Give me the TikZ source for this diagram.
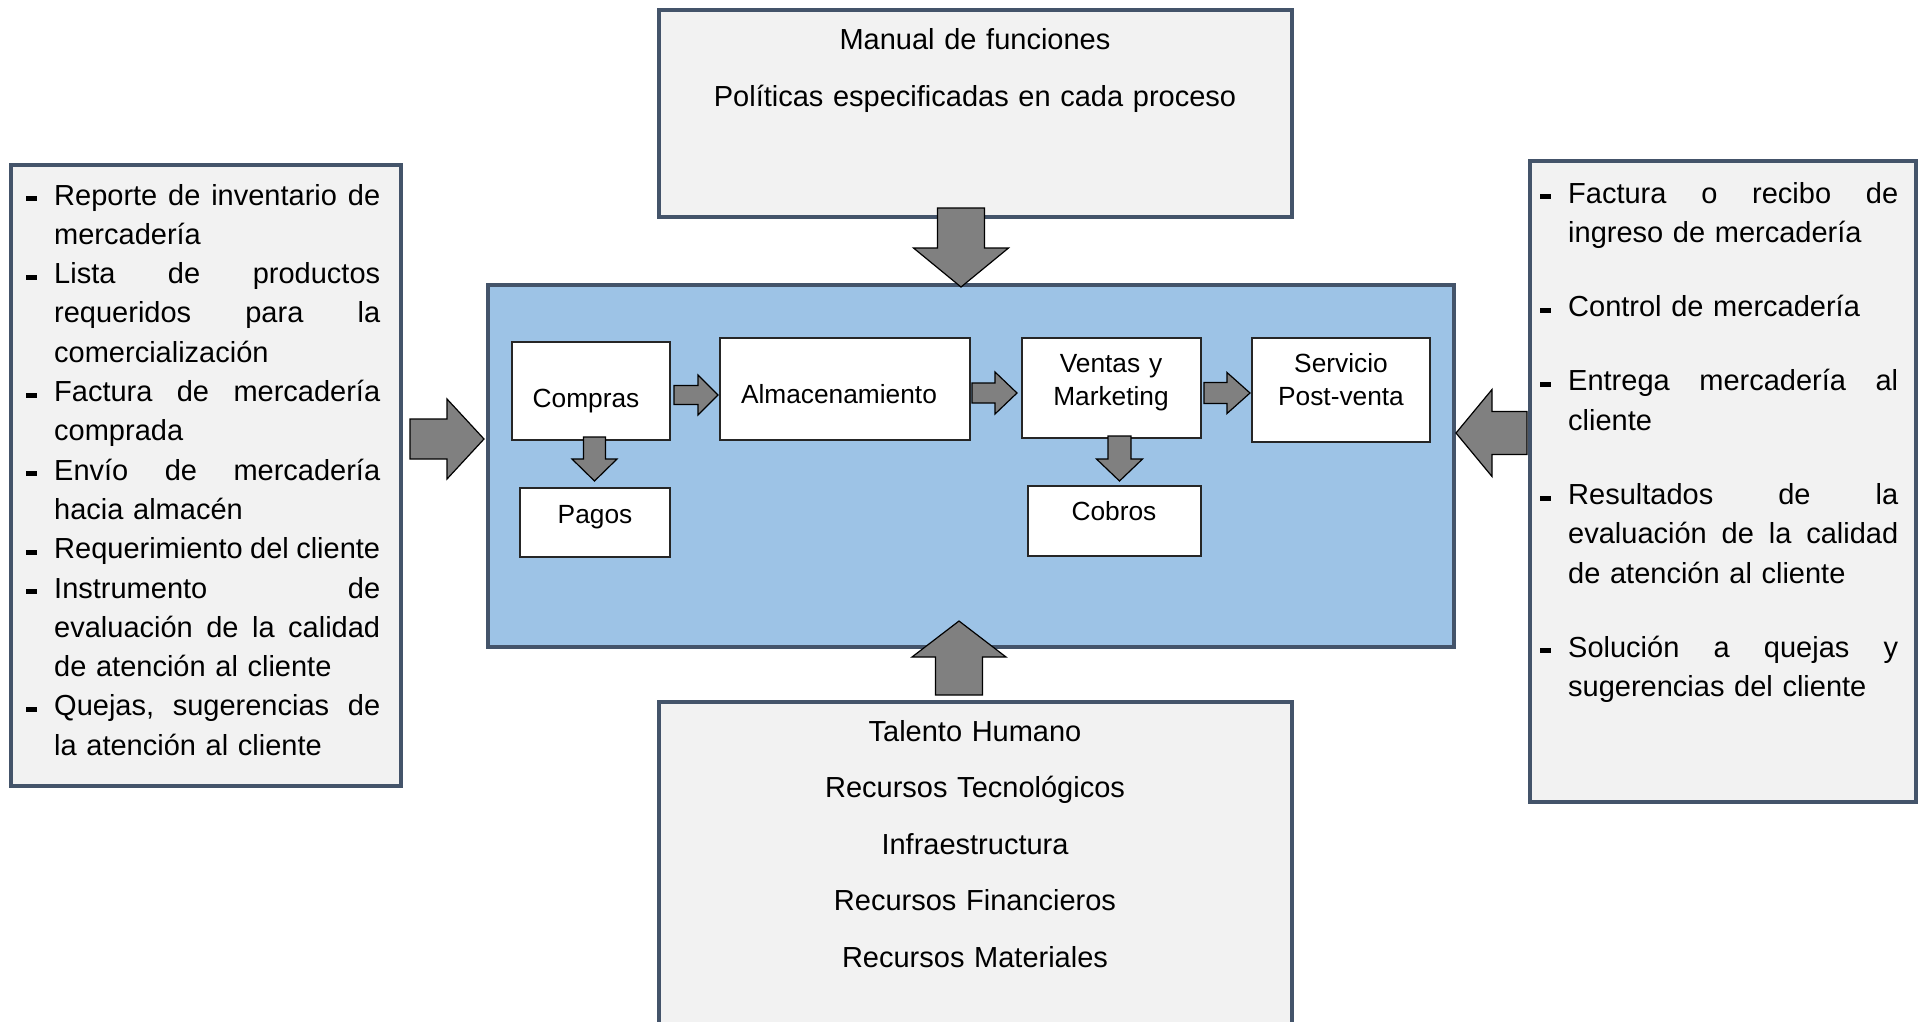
\documentclass[tikz,border=0pt]{standalone}
\usepackage{fontspec}
\setmainfont{Liberation Sans}
\definecolor{bluefill}{HTML}{9DC3E6}
\definecolor{boxborder}{HTML}{44546A}
\definecolor{outerfill}{HTML}{F2F2F2}
\definecolor{arrowfill}{HTML}{808080}
\newcommand\J[2][326pt]{\leavevmode\hbox to #1{\frenchspacing\spaceskip=0.278em plus 1fil minus 0.1em\relax #2}}
\newcommand\Dsh{\leavevmode\llap{\rule[4pt]{11pt}{5pt}\hspace{17pt}}}
\newcommand\barrowh[6]{\draw[barrow] (#1,#4-#5) -- (#2,#4-#5) -- (#2,#4-#6) -- (#3,#4) -- (#2,#4+#6) -- (#2,#4+#5) -- (#1,#4+#5) -- cycle;}
\newcommand\barrowv[6]{\draw[barrow] (#4-#5,#1) -- (#4-#5,#2) -- (#4-#6,#2) -- (#4,#3) -- (#4+#6,#2) -- (#4+#5,#2) -- (#4+#5,#1) -- cycle;}
\begin{document}
\begin{tikzpicture}[x=1pt,y=-1pt,
  outerbox/.style={draw=boxborder,line width=3.2pt,fill=outerfill,inner sep=0pt,outer sep=0pt,anchor=north west},
  mainbox/.style={draw=boxborder,line width=4pt,fill=bluefill,inner sep=0pt,outer sep=0pt,anchor=north west},
  procbox/.style={draw=black!85,line width=1.5pt,fill=white,inner sep=0pt,outer sep=0pt,anchor=north west},
  intext/.style={font=\fontsize{26.3}{33}\selectfont,text width=240pt,align=center,inner sep=0pt,anchor=base},
  outtext/.style={font=\fontsize{29}{56.7}\selectfont,text width=620pt,align=center,inner sep=0pt,anchor=base},
  listtext/.style={font=\fontsize{29}{39.3}\selectfont,align=left,inner sep=0pt,anchor=base west},
  barrow/.style={fill=arrowfill,draw=black,line width=1.2pt,line join=miter}]
\useasboundingbox (0,0) rectangle (1919,1021);
% outer boxes
\node[outerbox,minimum width=633pt,minimum height=207pt] (top) at (659,10) {};
\node[outerbox,minimum width=390pt,minimum height=621pt] (left) at (11,165) {};
\node[outerbox,minimum width=386pt,minimum height=641pt] (right) at (1530,161) {};
\node[outerbox,minimum width=633pt,minimum height=345pt] (bottom) at (659,702) {};
% main box
\node[mainbox,minimum width=966pt,minimum height=362pt] (main) at (488,285) {};
% process boxes
\node[procbox,minimum width=158pt,minimum height=98pt] (compras) at (512,342) {};
\node[procbox,minimum width=250pt,minimum height=102pt] (almac) at (720,338) {};
\node[procbox,minimum width=179pt,minimum height=100pt] (ventas) at (1022,338) {};
\node[procbox,minimum width=178pt,minimum height=104pt] (servicio) at (1252,338) {};
\node[procbox,minimum width=150pt,minimum height=69pt] (pagos) at (520,488) {};
\node[procbox,minimum width=173pt,minimum height=70pt] (cobros) at (1028,486) {};
% process texts
\node[intext] (tcompras) at (586,407) {Compras};
\node[intext] (talmac) at (839,403) {Almacenamiento};
\node[intext] (tventas) at (1111,372) {Ventas y\\Marketing};
\node[intext] (tservicio) at (1341,372) {Servicio\\Post-venta};
\node[intext] (tpagos) at (595,523) {Pagos};
\node[intext] (tcobros) at (1114,520) {Cobros};
% top and bottom texts
\node[outtext,font=\fontsize{29}{57}\selectfont] (ttop) at (975,49) {Manual de funciones\\Políticas especificadas en cada proceso};
\node[outtext,font=\fontsize{29}{56.5}\selectfont] (tbottom) at (975,741) {Talento Humano\\Recursos Tecnológicos\\Infraestructura\\Recursos Financieros\\Recursos Materiales};
% left list
\node[listtext,text width=326pt] (tleft) at (54,205) {%
\J{\Dsh Reporte de inventario de}\\
mercadería\\
\J{\Dsh Lista de productos}\\
\J{requeridos para la}\\
comercialización\\
\J{\Dsh Factura de mercadería}\\
comprada\\
\J{\Dsh Envío de mercadería}\\
hacia almacén\\
\J{\Dsh Requerimiento del cliente}\\
\J{\Dsh Instrumento de}\\
\J{evaluación de la calidad}\\
de atención al cliente\\
\J{\Dsh Quejas, sugerencias de}\\
la atención al cliente};
% right list
\node[listtext,text width=330pt] (tright) at (1568,203) {%
\J[330pt]{\Dsh Factura o recibo de}\\
ingreso de mercadería\\[35pt]
\Dsh Control de mercadería\\[35pt]
\J[330pt]{\Dsh Entrega mercadería al}\\
cliente\\[35pt]
\J[330pt]{\Dsh Resultados de la}\\
\J[330pt]{evaluación de la calidad}\\
de atención al cliente\\[35pt]
\J[330pt]{\Dsh Solución a quejas y}\\
sugerencias del cliente};
% big block arrows
\barrowv{208}{248}{287}{961}{23.5}{47.5}
\barrowv{695}{657}{621}{959}{23.5}{47}
\barrowh{410}{447}{484}{439}{20}{40}
\barrowh{1527}{1492}{1456}{433}{21.5}{43.5}
% small block arrows
\barrowh{674}{698}{718}{395}{9.5}{20}
\barrowh{972}{995}{1017}{393}{10}{21}
\barrowh{1204}{1227}{1250}{393}{10.5}{20.5}
\barrowv{437}{459}{481}{594.5}{11}{22.5}
\barrowv{436}{459}{481}{1119.5}{11.5}{23}
\end{tikzpicture}
\end{document}
